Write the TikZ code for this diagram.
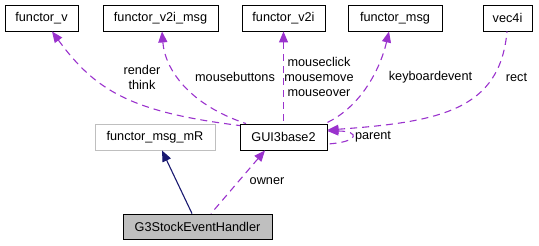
\documentclass[tikz,border=0pt]{standalone}
\usepackage{fontspec}
\setmainfont{Liberation Sans}
\usetikzlibrary{arrows.meta}
\definecolor{usecol}{HTML}{9A32CD}
\definecolor{inhcol}{HTML}{191970}
\definecolor{hidden}{HTML}{BFBFBF}
\begin{document}
\begin{tikzpicture}[x=1bp,y=-1bp,
  every node/.style={font=\fontsize{12.7bp}{15bp}\selectfont, inner sep=0pt},
  cls/.style={draw=black, line width=0.9bp, fill=white, minimum height=26bp},
  undoc/.style={cls, draw=hidden},
  self/.style={cls, fill=hidden, minimum height=25bp},
  usage/.style={draw=usecol, line width=1.1bp, dash pattern=on 7bp off 5bp,
    {Triangle[length=11bp,width=9bp,fill=usecol]}-},
  inherit/.style={draw=inhcol, line width=1.1bp,
    {Triangle[length=11bp,width=9bp,fill=inhcol]}-},
  lbl/.style={align=center}]
\useasboundingbox (0,0) rectangle (539,245);

% class boxes
\node[cls, minimum width=73bp]  (fv)    at (41.5,18)  {functor\_v};
\node[cls, minimum width=115bp] (fv2im) at (160.5,18) {functor\_v2i\_msg};
\node[cls, minimum width=83bp]  (fv2i)  at (283.5,18) {functor\_v2i};
\node[cls, minimum width=94bp]  (fmsg)  at (395,18)   {functor\_msg};
\node[cls, minimum width=49bp]  (vec)   at (507.5,18) {vec4i};
\node[undoc, minimum width=120bp] (fmr) at (155,137)  {functor\_msg\_mR};
\node[cls, minimum width=87bp]  (gui)   at (283.5,137) {GUI3base2};
\node[self, minimum width=149bp] (g3)   at (197.5,226.5) {G3StockEventHandler};

% inheritance
\draw[inherit] ([xshift=7bp]fmr.south) -- ([xshift=-5.5bp]g3.north);

% member usage
\draw[usage] ([xshift=-18.5bp]gui.south) -- ([xshift=13.5bp]g3.north);
\draw[usage] ([xshift=10.5bp]fv.south) .. controls (95,90) and (130,112) .. ([xshift=-43.5bp,yshift=-2bp]gui.north);
\draw[usage] ([xshift=1.5bp]fv2im.south) .. controls (165,70) and (190,105) .. ([xshift=-37.5bp]gui.north);
\draw[usage] (fv2i.south) -- (gui.north);
\draw[usage] ([xshift=-6bp]fmsg.south) .. controls (380,70) and (360,108) .. ([xshift=41.5bp]gui.north);
\draw[usage] ([yshift=7bp]gui.east) .. controls (440,122) and (500,110) .. ([xshift=-0.5bp]vec.south);
\draw[usage] ([yshift=6bp]gui.east) .. controls (360,131) and (360,142) .. ([yshift=-7bp]gui.east);

% edge labels
\node[lbl] (l1) at (142,77) {render\\think};
\node[lbl] (l2) at (235,77) {mousebuttons};
\node[lbl] (l3) at (319,77) {mouseclick\\mousemove\\mouseover};
\node[lbl] (l4) at (430.5,77) {keyboardevent};
\node[lbl] (l5) at (516.5,77) {rect};
\node[lbl] (l6) at (373,137) {parent};
\node[lbl] (l7) at (267,181) {owner};
\end{tikzpicture}
\end{document}
